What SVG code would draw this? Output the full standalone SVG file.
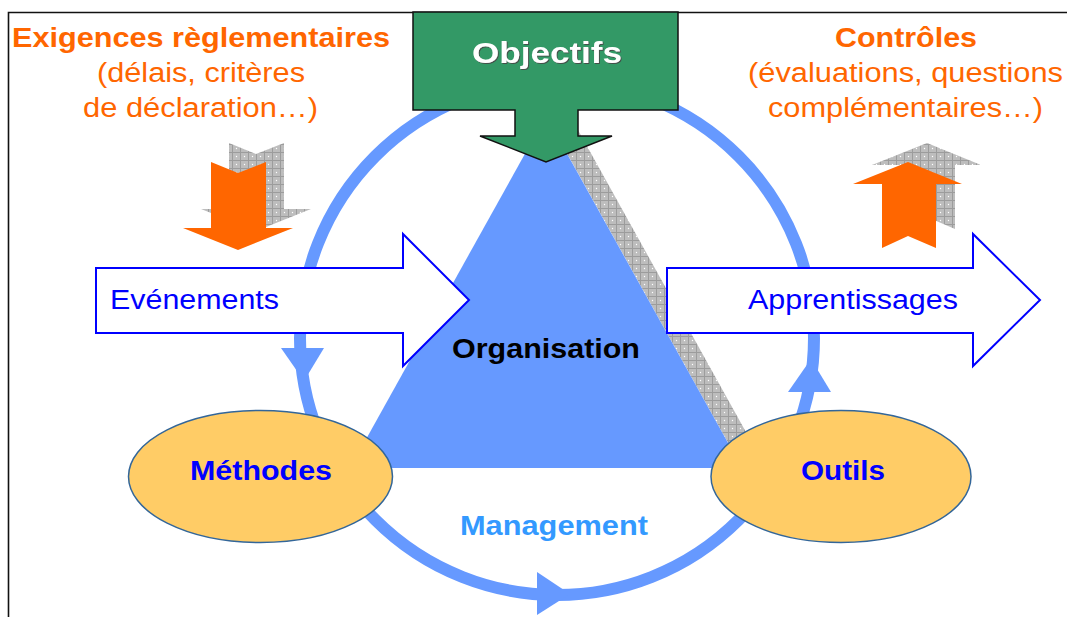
<svg xmlns="http://www.w3.org/2000/svg" width="1067" height="617" viewBox="0 0 1067 617">
<defs>
<pattern id="hatch" width="8" height="8" patternUnits="userSpaceOnUse">
<rect width="8" height="8" fill="#BDBDBD"/>
<path d="M0 0.5H8M0.5 0V8" stroke="#9C9C9C" stroke-width="1"/>
<circle cx="4.5" cy="4.5" r="0.7" fill="#fff"/>
</pattern>
<filter id="sh" x="-10%" y="-20%" width="120%" height="140%">
<feDropShadow dx="1" dy="1" stdDeviation="0.4" flood-color="#444" flood-opacity="0.9"/>
</filter>
</defs>
<style>
text{font-family:"Liberation Sans",Arial,sans-serif;font-size:27px}
.b{font-weight:bold}
.or{fill:#FF6600}
.c{text-anchor:middle}
.blk{fill:#0000FF;font-weight:bold}
.ring{fill:none;stroke:#6699FF;stroke-width:12}
.rh{fill:#6699FF}
.blockarrow{fill:#fff;stroke:#0000FF;stroke-width:2}
.ell{fill:#FFCC66;stroke:#336699;stroke-width:1.5}
.orarrow{fill:#FF6600}
.shadow{fill:url(#hatch)}
</style>
<rect width="1067" height="617" fill="#fff"/>
<path d="M8.5 617V12.5H1067" fill="none" stroke="#111" stroke-width="1.6"/>

<g id="shadow-strip"><polygon class="shadow" points="554,130 578,130 766,468 742,468"/></g>

<g id="connectors">
<circle class="ring" cx="557" cy="338" r="257"/>
<polygon class="rh" points="281,348 324,348 304,381"/>
<polygon class="rh" points="788,392 831,392 811,359"/>
<polygon class="rh" points="537,572 537,615 570,594"/>
</g>

<g id="organisation">
<polygon fill="#6699FF" points="546,116 742,468 350,468"/>
<text class="b c" x="546" y="358" textLength="188" lengthAdjust="spacingAndGlyphs" fill="#000">Organisation</text>
</g>

<g id="evenements">
<polygon class="blockarrow" points="96,268 403,268 403,234 469,300 403,366 403,333 96,333"/>
<text x="110" y="309" textLength="169" lengthAdjust="spacingAndGlyphs" fill="#0000FF">Evénements</text>
</g>

<g id="apprentissages">
<polygon class="blockarrow" points="667,268 973,268 973,234 1040,300 973,366 973,333 667,333"/>
<text x="748" y="309" textLength="210" lengthAdjust="spacingAndGlyphs" fill="#0000FF">Apprentissages</text>
</g>

<g id="methodes">
<ellipse class="ell" cx="260.5" cy="476.5" rx="132" ry="66"/>
<text class="blk c" x="261" y="480" textLength="142" lengthAdjust="spacingAndGlyphs">Méthodes</text>
</g>

<g id="outils">
<ellipse class="ell" cx="841" cy="476.5" rx="130" ry="66"/>
<text class="blk c" x="843" y="480" textLength="84" lengthAdjust="spacingAndGlyphs">Outils</text>
</g>

<g id="management">
<text class="b c" x="554" y="535" textLength="188" lengthAdjust="spacingAndGlyphs" fill="#3399FF">Management</text>
</g>

<g id="objectifs">
<polygon fill="#339966" stroke="#111" stroke-width="1.5" stroke-linejoin="miter" points="413,12 678,12 678,110 578,110 578,136 612,136 546,162 480,136 515,136 515,110 413,110"/>
<text class="b c" x="547" y="63" style="font-size:29px" textLength="150" lengthAdjust="spacingAndGlyphs" fill="#fff" filter="url(#sh)">Objectifs</text>
</g>

<g id="exigences">
<polygon class="shadow" points="229,143 256,154 284,143 284,209 311,209 256,231 201,209 229,209"/>
<polygon class="orarrow" points="211,162 238,173 266,162 266,228 293,228 238,250 183,228 211,228"/>
<text class="b or c" x="201" y="47" textLength="378" lengthAdjust="spacingAndGlyphs">Exigences règlementaires</text>
<text class="or c" x="201" y="82" textLength="208" lengthAdjust="spacingAndGlyphs">(délais, critères</text>
<text class="or c" x="200.5" y="117" textLength="235" lengthAdjust="spacingAndGlyphs">de déclaration…)</text>
</g>

<g id="controles">
<polygon class="shadow" points="927,143 981,165 955,165 955,229 927,217 901,229 901,165 872,165"/>
<polygon class="orarrow" points="908,162 962,184 936,184 936,248 908,236 882,248 882,184 853,184"/>
<text class="b or c" x="906" y="47" textLength="142" lengthAdjust="spacingAndGlyphs">Contrôles</text>
<text class="or c" x="905.5" y="82" textLength="315" lengthAdjust="spacingAndGlyphs">(évaluations, questions</text>
<text class="or c" x="905.5" y="117" textLength="275" lengthAdjust="spacingAndGlyphs">complémentaires…)</text>
</g>
</svg>
